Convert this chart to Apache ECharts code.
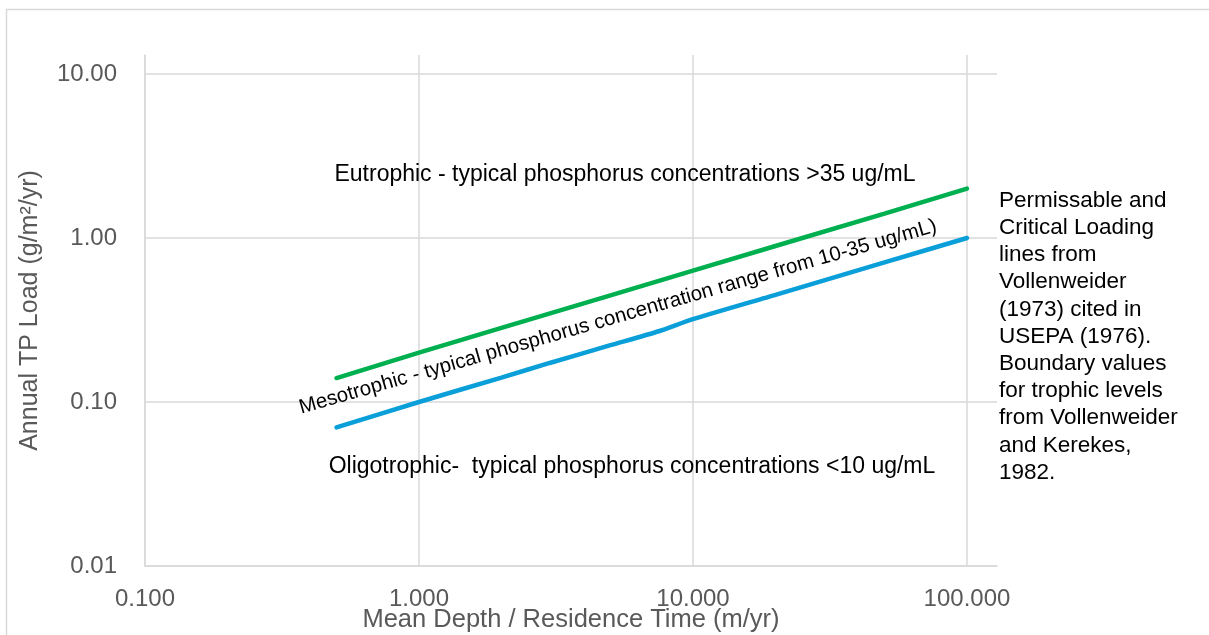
<!DOCTYPE html>
<html>
<head>
<meta charset="utf-8">
<script src="https://cdn.jsdelivr.net/npm/echarts@6/dist/echarts.min.js"></script>
<style>
  html, body { margin: 0; padding: 0; background: #fff; }
  #chart { width: 1209px; height: 635px; }
</style>
</head>
<body>
<div id="chart"></div>
<script>
// Mean depth / residence time (m/yr)
const criticalX = [0.5, 1, 2, 5, 10, 20, 50, 100];
// Critical loading line (green), g/m2/yr
const criticalY = [0.14, 0.2, 0.283, 0.447, 0.632, 0.894, 1.41, 2.0];

const permissibleX = [0.5, 1, 2, 3, 5, 7.5, 10, 20, 50, 100];
// Permissible loading line (blue), g/m2/yr
const permissibleY = [0.07, 0.1, 0.141, 0.173, 0.222, 0.27, 0.32, 0.45, 0.71, 1.0];

const xTicks = [0.1, 1, 10, 100];
const yTicks = [0.01, 0.1, 1, 10];

const xTitle = 'Mean Depth / Residence Time (m/yr)';
const yTitle = 'Annual TP Load (g/m\u00B2/yr)';

const eutrophicText = 'Eutrophic - typical phosphorus concentrations >35 ug/mL';
const mesotrophicText = 'Mesotrophic - typical phosphorus concentration range from 10-35 ug/mL)';
const oligotrophicText = 'Oligotrophic-  typical phosphorus concentrations <10 ug/mL';
const noteLines = [
  'Permissable and',
  'Critical Loading',
  'lines from',
  'Vollenweider',
  '(1973) cited in',
  'USEPA (1976).',
  'Boundary values',
  'for trophic levels',
  'from Vollenweider',
  'and Kerekes,',
  '1982.'
];

const FONT = '"Liberation Sans", Arial, sans-serif';
const GRID = '#d9d9d9';
const LABEL = '#595959';

function isTick(v, ticks) {
  return ticks.some(t => Math.abs(Math.log10(v) - Math.log10(t)) < 1e-6);
}

const chart = echarts.init(document.getElementById('chart'));

chart.setOption({
  animation: false,
  backgroundColor: '#fff',
  grid: { left: 145, top: 55, right: 212, bottom: 69, containLabel: false, outerBoundsMode: 'none' },
  xAxis: {
    type: 'log',
    logBase: 10,
    min: 0.1,
    max: 128.7,
    name: xTitle,
    nameLocation: 'middle',
    nameGap: 41,
    nameMoveOverlap: false,
    nameTextStyle: { color: LABEL, fontSize: 25.5, fontFamily: FONT },
    axisLine: { show: true, lineStyle: { color: GRID, width: 1.5 } },
    axisTick: { show: false },
    axisLabel: {
      color: LABEL, fontSize: 24, fontFamily: FONT, margin: 21,
      showMaxLabel: false,
      formatter: v => isTick(v, xTicks) ? v.toFixed(3) : ''
    },
    splitLine: { show: true, showMaxLine: false, lineStyle: { color: GRID, width: 1.5 } }
  },
  yAxis: {
    type: 'log',
    logBase: 10,
    min: 0.01,
    max: 13.06,
    name: yTitle,
    nameLocation: 'middle',
    nameGap: 102,
    nameMoveOverlap: false,
    nameTextStyle: { color: LABEL, fontSize: 25, fontFamily: FONT },
    axisLine: { show: true, lineStyle: { color: GRID, width: 1.5 } },
    axisTick: { show: false },
    axisLabel: {
      color: LABEL, fontSize: 24, fontFamily: FONT, margin: 28,
      showMaxLabel: false,
      formatter: v => isTick(v, yTicks) ? v.toFixed(2) : ''
    },
    splitLine: { show: true, showMaxLine: false, lineStyle: { color: GRID, width: 1.5 } }
  },
  series: [
    {
      name: 'Critical',
      type: 'line',
      data: criticalX.map((x, i) => [x, criticalY[i]]),
      showSymbol: false,
      lineStyle: { color: '#00B050', width: 4.5, cap: 'round' },
      itemStyle: { color: '#00B050' },
      z: 3
    },
    {
      name: 'Permissible',
      type: 'line',
      data: permissibleX.map((x, i) => [x, permissibleY[i]]),
      showSymbol: false,
      smooth: 0.2,
      lineStyle: { color: '#0A9FD8', width: 4.5, cap: 'round' },
      itemStyle: { color: '#0A9FD8' },
      z: 3
    }
  ],
  graphic: [
    {
      type: 'rect', silent: true, z: 0,
      shape: { x: 6.5, y: 9.5, width: 1220, height: 640 },
      style: { fill: 'none', stroke: '#d9d9d9', lineWidth: 1.5 }
    },
    {
      type: 'text', x: 625, y: 175, z: 100,
      style: { text: eutrophicText, font: '23px ' + FONT, fill: '#000', textAlign: 'center', textVerticalAlign: 'middle' }
    },
    {
      type: 'text', x: 618, y: 317, z: 100, rotation: 16 * Math.PI / 180,
      style: { text: mesotrophicText, font: '20.5px ' + FONT, fill: '#000', textAlign: 'center', textVerticalAlign: 'middle' }
    },
    {
      type: 'text', x: 632, y: 467, z: 100,
      style: { text: oligotrophicText, font: '23px ' + FONT, fill: '#000', textAlign: 'center', textVerticalAlign: 'middle' }
    },
    {
      type: 'text', x: 999, y: 187, z: 100,
      style: { text: noteLines.join('\n'), font: '22.5px ' + FONT, lineHeight: 27.2, fill: '#000', textAlign: 'left', textVerticalAlign: 'top' }
    }
  ]
});
</script>
</body>
</html>
